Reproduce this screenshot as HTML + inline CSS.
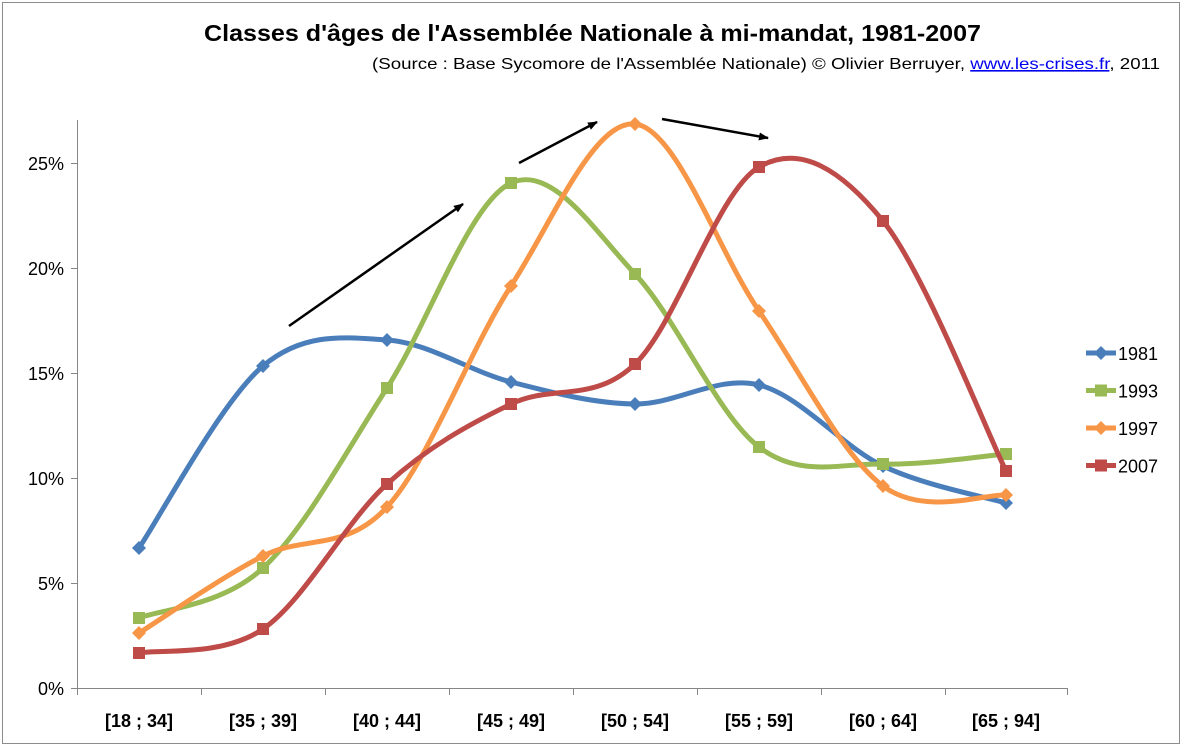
<!DOCTYPE html>
<html><head><meta charset="utf-8"><style>
html,body{margin:0;padding:0;background:#fff;}
svg{display:block;font-family:"Liberation Sans",sans-serif;}
</style></head><body>
<svg id="s" width="1186" height="748" viewBox="0 0 1186 748" xmlns="http://www.w3.org/2000/svg">
<rect x="2.5" y="2.5" width="1177" height="741" fill="#fff" stroke="#8c8c8c" stroke-width="1"/>
<text x="204" y="41" textLength="777" lengthAdjust="spacingAndGlyphs" font-size="23" font-weight="bold" fill="#000">Classes d'âges de l'Assemblée Nationale à mi-mandat, 1981-2007</text>
<text x="372" y="69" textLength="788" lengthAdjust="spacingAndGlyphs" font-size="16" fill="#000">(Source : Base Sycomore de l'Assemblée Nationale)  © Olivier Berruyer, <tspan fill="#0000ee" text-decoration="underline">www.les-crises.fr</tspan>,  2011</text>
<g stroke="#868686" stroke-width="1" fill="none">
<line x1="77.5" y1="120" x2="77.5" y2="688"/>
<line x1="77" y1="688.5" x2="1068" y2="688.5"/>
</g>
<g id="ticks" stroke="#868686" stroke-width="1"></g>
<g font-size="18" fill="#000" text-anchor="end">
<text x="64" y="695">0%</text><text x="64" y="590">5%</text><text x="64" y="485">10%</text>
<text x="64" y="380">15%</text><text x="64" y="275">20%</text><text x="64" y="170">25%</text>
</g>
<g font-size="18" font-weight="bold" fill="#000" text-anchor="middle">
<text x="139" y="727">[18 ; 34]</text><text x="263" y="727">[35 ; 39]</text><text x="387" y="727">[40 ; 44]</text>
<text x="511" y="727">[45 ; 49]</text><text x="635" y="727">[50 ; 54]</text><text x="759" y="727">[55 ; 59]</text>
<text x="883" y="727">[60 ; 64]</text><text x="1006" y="727">[65 ; 94]</text>
</g>
<g id="series"></g>
<defs><marker id="ah" markerWidth="10" markerHeight="8" refX="9" refY="4" orient="auto" markerUnits="userSpaceOnUse"><path d="M0,0 L10,4 L0,8 Z" fill="#000"/></marker></defs>
<g stroke="#000" stroke-width="2.5" marker-end="url(#ah)">
<line x1="289" y1="326" x2="463" y2="204"/>
<line x1="519" y1="163" x2="597" y2="122"/>
<line x1="662" y1="119" x2="768" y2="138"/>
</g>
<g font-size="18" fill="#000" id="legend"></g>
</svg>
<script>
var NS="http://www.w3.org/2000/svg";
function el(t,a,p){var e=document.createElementNS(NS,t);for(var k in a)e.setAttribute(k,a[k]);p.appendChild(e);return e;}
var tk=document.getElementById('ticks');
[77,201,325,449,573,697,821,945,1067].forEach(function(x){el('line',{x1:x+.5,y1:688,x2:x+.5,y2:695},tk);});
[688,583,478,373,268,163].forEach(function(y){el('line',{x1:71,y1:y+.5,x2:77,y2:y+.5},tk);});
var X=[139,263,387,511,635,759,883,1006];
var S=[
{n:'1981',c:'#4A7EBB',m:'d',y:[548,366,340,382,404,385,466,503]},
{n:'1993',c:'#98B954',m:'s',y:[618,568,388,183,274,447,464,454]},
{n:'1997',c:'#F79646',m:'d',y:[633,556,507,286,124,311,486,495]},
{n:'2007',c:'#BE4B48',m:'s',y:[653,629,484,404,364,167,221,471]}];
var g=document.getElementById('series');
function marker(m,x,y,c,p){
 if(m=='s')el('rect',{x:x-6,y:y-6,width:12,height:12,fill:c},p);
 else el('path',{d:'M'+x+','+(y-7)+'L'+(x+7)+','+y+'L'+x+','+(y+7)+'L'+(x-7)+','+y+'Z',fill:c},p);
}
S.forEach(function(s){
 var P=X.map(function(x,i){return [x,s.y[i]];});
 var d='M'+P[0][0]+','+P[0][1];
 for(var i=0;i<P.length-1;i++){
  var p0=P[Math.max(0,i-1)],p1=P[i],p2=P[i+1],p3=P[Math.min(P.length-1,i+2)];
  var t=1/6;
  var c1=[p1[0]+(p2[0]-p0[0])*t,p1[1]+(p2[1]-p0[1])*t];
  var c2=[p2[0]-(p3[0]-p1[0])*t,p2[1]-(p3[1]-p1[1])*t];
  d+='C'+c1+' '+c2+' '+p2;
 }
 el('path',{d:d,fill:'none',stroke:s.c,'stroke-width':5,'stroke-linejoin':'round'},g);
 P.forEach(function(p){marker(s.m,p[0],p[1],s.c,g);});
});
var lg=document.getElementById('legend');
S.forEach(function(s,i){
 var y=353+i*37.5;
 el('line',{x1:1086,y1:y,x2:1116,y2:y,stroke:s.c,'stroke-width':5},lg);
 marker(s.m,1101,y,s.c,lg);
 var t=el('text',{x:1118,y:y+7},lg);t.textContent=s.n;
});
</script>
</body></html>
